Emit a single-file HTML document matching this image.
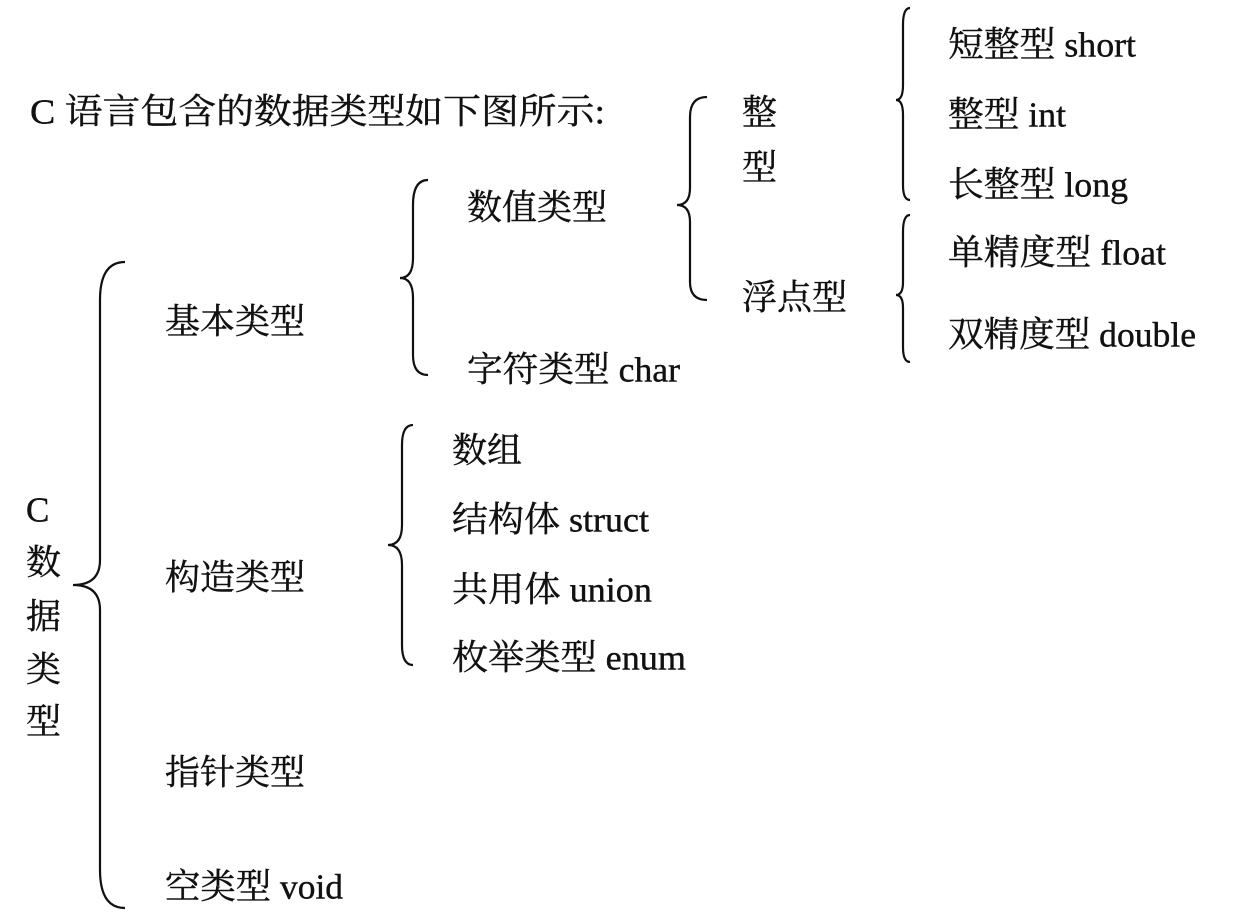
<!DOCTYPE html>
<html><head><meta charset="utf-8"><style>
html,body{margin:0;padding:0;background:#fff;}
svg{display:block}
text{font-family:"Liberation Serif","Noto Serif CJK SC",serif;font-size:35px;fill:#111;stroke:#111;stroke-width:0.4;dominant-baseline:central}
path{fill:none;stroke:#111;stroke-width:2.2}
</style></head><body>
<svg width="1257" height="917" viewBox="0 0 1257 917">
<path d="M125,262 Q100,262 100,300 L100,560 Q100,585 73,585 Q100,585 100,610 L100,870 Q100,908 125,908"/>
<path d="M428,180 Q413,180 413,205 L413,258 Q413,278 400,278 Q413,278 413,298 L413,355 Q413,375 428,375"/>
<path d="M413,425 Q402,425 402,445 L402,525 Q402,545 388,545 Q402,545 402,565 L402,645 Q402,665 413,665"/>
<path d="M707,97 Q690,97 690,117 L690,188 Q690,205 677,205 Q690,205 690,222 L690,282 Q690,300 707,300"/>
<path d="M910,8 Q903,8 903,25 L903,85 Q903,100 896,100 Q903,100 903,115 L903,185 Q903,200 910,200"/>
<path d="M910,215 Q903,215 903,232 L903,282 Q903,295 896,295 Q903,295 903,308 L903,347 Q903,362 910,362"/>
<text x="30" y="112" textLength="575" lengthAdjust="spacingAndGlyphs">C 语言包含的数据类型如下图所示:</text>
<text x="742" y="113">整</text>
<text x="742" y="168">型</text>
<text x="948" y="45" textLength="188" lengthAdjust="spacingAndGlyphs">短整型 short</text>
<text x="948" y="115" textLength="118" lengthAdjust="spacingAndGlyphs">整型 int</text>
<text x="948" y="185" textLength="180" lengthAdjust="spacingAndGlyphs">长整型 long</text>
<text x="948" y="253" textLength="218" lengthAdjust="spacingAndGlyphs">单精度型 float</text>
<text x="948" y="335" textLength="248" lengthAdjust="spacingAndGlyphs">双精度型 double</text>
<text x="467" y="208" textLength="140" lengthAdjust="spacingAndGlyphs">数值类型</text>
<text x="742" y="298" textLength="105" lengthAdjust="spacingAndGlyphs">浮点型</text>
<text x="165" y="322" textLength="140" lengthAdjust="spacingAndGlyphs">基本类型</text>
<text x="467" y="370" textLength="213" lengthAdjust="spacingAndGlyphs">字符类型 char</text>
<text x="452" y="451" textLength="70" lengthAdjust="spacingAndGlyphs">数组</text>
<text x="452" y="520" textLength="197" lengthAdjust="spacingAndGlyphs">结构体 struct</text>
<text x="452" y="590" textLength="200" lengthAdjust="spacingAndGlyphs">共用体 union</text>
<text x="452" y="658" textLength="234" lengthAdjust="spacingAndGlyphs">枚举类型 enum</text>
<text x="26" y="510">C</text>
<text x="26" y="563">数</text>
<text x="26" y="617">据</text>
<text x="26" y="670">类</text>
<text x="26" y="722">型</text>
<text x="165" y="578" textLength="140" lengthAdjust="spacingAndGlyphs">构造类型</text>
<text x="165" y="773" textLength="140" lengthAdjust="spacingAndGlyphs">指针类型</text>
<text x="165" y="887" textLength="178" lengthAdjust="spacingAndGlyphs">空类型 void</text>
</svg>
</body></html>
